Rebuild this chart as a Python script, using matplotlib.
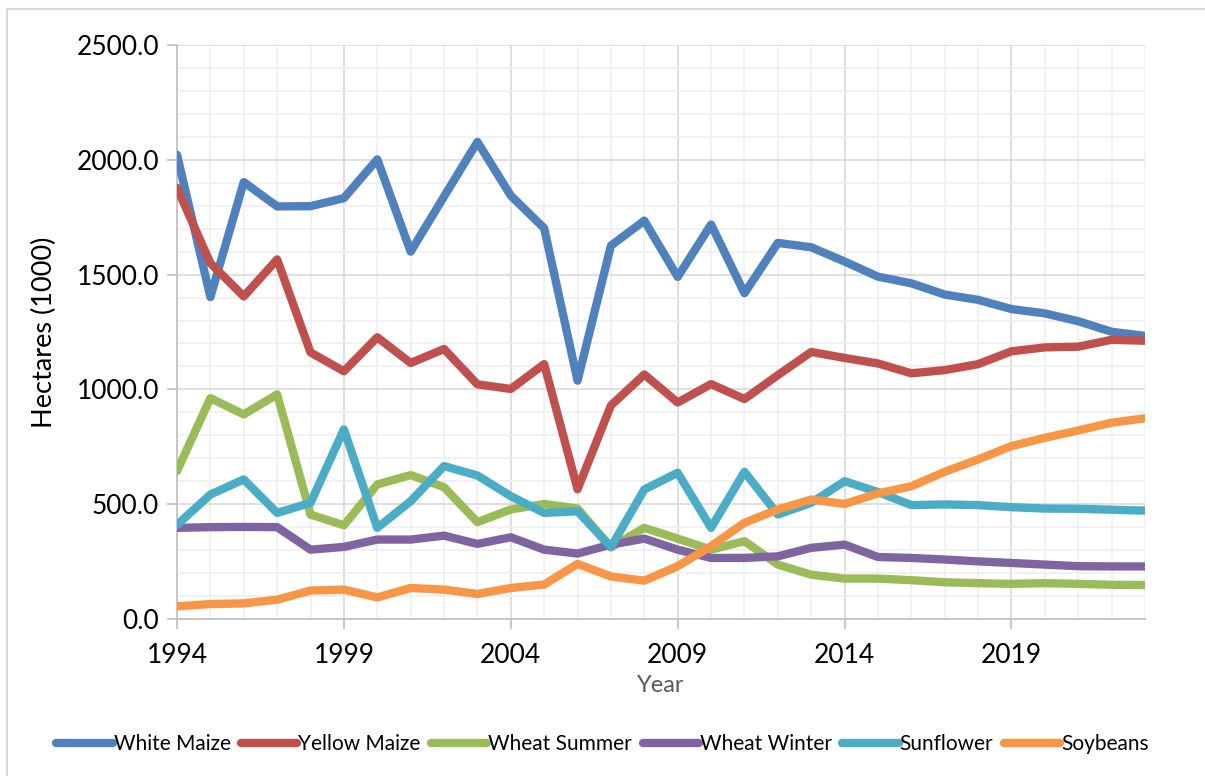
import numpy as np
import matplotlib
matplotlib.use("Agg")
import matplotlib.pyplot as plt
from matplotlib.ticker import MultipleLocator, FixedLocator, FormatStrFormatter
from matplotlib.lines import Line2D

plt.rcParams['font.family'] = ['Lato', 'DejaVu Sans']

years = list(range(1994, 2024))
year_ticks = [1994, 1999, 2004, 2009, 2014, 2019]

white_maize = [2022, 1402, 1903, 1797, 1798, 1833, 2002, 1600, 1840, 2078, 1844, 1702,
               1038, 1626, 1735, 1490, 1718, 1419, 1638, 1619, 1557, 1491, 1462, 1413,
               1390, 1350, 1331, 1297, 1251, 1233]
yellow_maize = [1878, 1550, 1405, 1566, 1161, 1079, 1227, 1115, 1176, 1022, 1002, 1110,
                565, 930, 1065, 943, 1023, 958, 1062, 1163, 1137, 1113, 1070, 1084,
                1110, 1166, 1183, 1186, 1216, 1212]
wheat_summer = [644, 962, 891, 978, 455, 408, 586, 627, 574, 422, 477, 501,
                481, 312, 397, 350, 302, 339, 237, 193, 176, 176, 169, 160,
                156, 153, 156, 153, 149, 148]
wheat_winter = [397, 400, 401, 400, 302, 314, 346, 346, 363, 327, 356, 302,
                285, 324, 350, 302, 266, 266, 273, 310, 324, 270, 266, 259,
                251, 244, 237, 230, 229, 229]
sunflower = [410, 542, 608, 462, 506, 826, 397, 513, 666, 625, 535, 462,
             469, 313, 564, 637, 397, 641, 455, 506, 600, 553, 496, 499,
             496, 487, 481, 480, 476, 472]
soybeans = [55, 65, 68, 84, 124, 128, 94, 135, 128, 109, 135, 150,
            240, 185, 167, 230, 317, 419, 477, 520, 501, 547, 578, 641,
            695, 753, 789, 821, 855, 874]

series = [
    ("White Maize", white_maize, "#4F81BD"),
    ("Yellow Maize", yellow_maize, "#C0504D"),
    ("Wheat Summer", wheat_summer, "#9BBB59"),
    ("Wheat Winter", wheat_winter, "#8064A2"),
    ("Sunflower", sunflower, "#4BACC6"),
    ("Soybeans", soybeans, "#F79646"),
]

fig = plt.figure(figsize=(12.05, 7.76), dpi=100)
# chart border (only left and top edges show in the crop)
bx, by = 7/1205, 1 - 9/776
fig.add_artist(Line2D([bx, bx], [0, by], transform=fig.transFigure, color="#d9d9d9", lw=1.5))
fig.add_artist(Line2D([bx, 1], [by, by], transform=fig.transFigure, color="#d9d9d9", lw=1.5))

ax = fig.add_axes([177/1205, 1 - 619/776, (1145 - 177)/1205, (619 - 45)/776])

for name, vals, col in series:
    ax.plot(years, vals, color=col, lw=6, label=name,
            solid_joinstyle='round', solid_capstyle='round', zorder=3)

ax.set_xlim(1994, 2023)
ax.set_ylim(0, 2500)
ax.xaxis.set_major_locator(FixedLocator(year_ticks))
ax.xaxis.set_minor_locator(MultipleLocator(1))
ax.yaxis.set_major_locator(MultipleLocator(500))
ax.yaxis.set_minor_locator(MultipleLocator(100))
ax.yaxis.set_major_formatter(FormatStrFormatter('%.1f'))

ax.grid(which='major', color='#d9d9d9', lw=1.2, zorder=0)
ax.grid(which='minor', color='#efefef', lw=1.2, zorder=0)
ax.set_axisbelow(True)

for s in ['top', 'right']:
    ax.spines[s].set_visible(False)
for s in ['left', 'bottom']:
    ax.spines[s].set_color('#bfbfbf')
    ax.spines[s].set_linewidth(1.2)

ax.tick_params(which='major', length=7, color='#bfbfbf', width=1.2, labelsize=19, pad=6)
ax.tick_params(which='minor', length=0)
ax.tick_params(axis='x', pad=10)

ax.set_ylabel("Hectares (1000)", fontsize=19.5, labelpad=14)
ax.set_xlabel("Year", fontsize=17, color='#595959', labelpad=5)

leg = fig.legend(loc='center', bbox_to_anchor=(0.5, 1 - 744/776), ncol=6, frameon=False,
                 fontsize=15, handlelength=2.7, handletextpad=0.05, columnspacing=0.5)
for h in leg.get_lines():
    h.set_linewidth(6)
    h.set_solid_capstyle('round')

fig.savefig("out.png", dpi=100)
